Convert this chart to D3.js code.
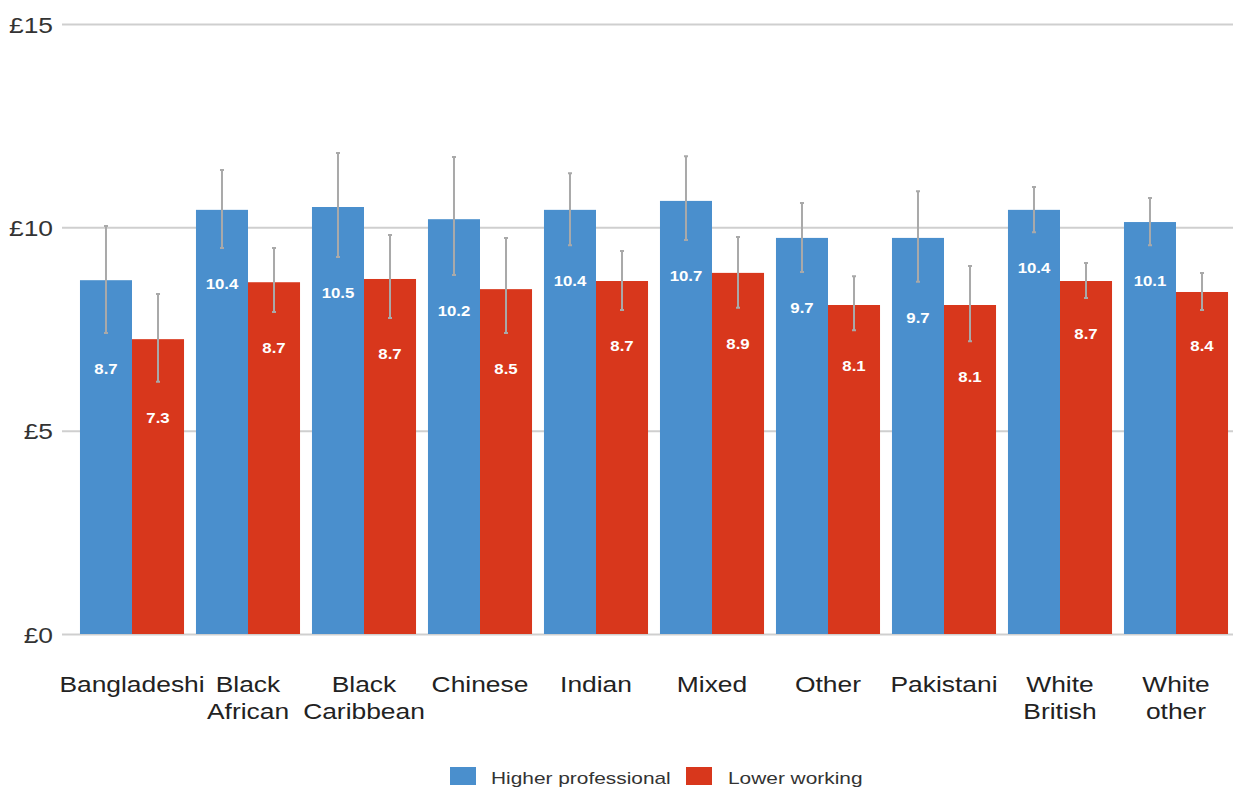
<!DOCTYPE html>
<html><head><meta charset="utf-8">
<script src="https://cdn.jsdelivr.net/npm/d3@7"></script>
<style>body{margin:0;background:#fff;font-family:"Liberation Sans",Arial,sans-serif;}</style>
</head><body>
<svg id="c" width="1233" height="791"></svg>
<script>
const categories = ["Bangladeshi","Black African","Black Caribbean","Chinese","Indian","Mixed","Other","Pakistani","White British","White other"];
const seriesNames = ["Higher professional","Lower working"];
const higherValues = [8.7,10.43,10.5,10.2,10.43,10.65,9.74,9.74,10.43,10.13];
const lowerValues = [7.25,8.65,8.73,8.48,8.68,8.88,8.09,8.09,8.68,8.41];
const higherLabels = ["8.7","10.4","10.5","10.2","10.4","10.7","9.7","9.7","10.4","10.1"];
const lowerLabels = ["7.3","8.7","8.7","8.5","8.7","8.9","8.1","8.1","8.7","8.4"];
const higherErrLow = [7.4,9.49,9.27,8.83,9.56,9.69,8.9,8.66,9.88,9.56];
const higherErrHigh = [10.03,11.41,11.83,11.73,11.33,11.75,10.6,10.89,10.99,10.72];
const lowerErrLow = [6.2,7.92,7.77,7.4,7.97,8.02,7.47,7.2,8.26,7.97];
const lowerErrHigh = [8.36,9.49,9.81,9.74,9.42,9.76,8.8,9.05,9.12,8.88];
const yTicks = [0,5,10,15];
const colors = ["#4a8fcd","#d8371c"];

const SX = 1.2; // horizontal stretch of text in the reference
const svg = d3.select("#c");
const y = d3.scaleLinear().domain([0,15]).range([634,24]);
const x = d3.scaleBand().domain(categories).range([74,1234]).paddingInner(0.103).paddingOuter(0.0515);
const xs = d3.scaleBand().domain(seriesNames).range([0,x.bandwidth()]);

function stext(parent, tx, ty, anchor, size, fill, weight){
  return parent.append("text").attr("transform",`translate(${tx},${ty}) scale(${SX},1)`)
    .attr("text-anchor",anchor).attr("font-size",size).attr("fill",fill)
    .attr("font-weight",weight||"normal").attr("font-family","Liberation Sans, Arial, sans-serif");
}

// grid
const yAxis = d3.axisLeft(y).tickValues(yTicks).tickFormat(d=>"£"+d).tickSize(-(1233-62)).tickPadding(0);
const ga = svg.append("g").attr("transform","translate(62,0)").call(yAxis);
ga.select(".domain").remove();
ga.selectAll(".tick line").attr("stroke","#cfcfcf").attr("stroke-width",2);
ga.selectAll(".tick text").remove();
ga.selectAll(".tick").each(function(d){
  stext(d3.select(this), -9, 8, "end", 22, "#333").text("£"+d);
});

const data = categories.map((c,i)=>({c, vals:[
  {s:seriesNames[0], v:higherValues[i], lab:higherLabels[i], lo:higherErrLow[i], hi:higherErrHigh[i]},
  {s:seriesNames[1], v:lowerValues[i], lab:lowerLabels[i], lo:lowerErrLow[i], hi:lowerErrHigh[i]}
]}));

const g = svg.selectAll(".grp").data(data).enter().append("g").attr("transform",d=>`translate(${x(d.c)},0)`);
g.selectAll("rect").data(d=>d.vals).enter().append("rect")
  .attr("x",d=>xs(d.s)).attr("width",xs.bandwidth())
  .attr("y",d=>y(d.v)).attr("height",d=>y(0)-y(d.v))
  .attr("fill",(d,i)=>colors[i]);
// error bars
g.selectAll(".err").data(d=>d.vals).enter().append("path")
  .attr("d",d=>{const cx=xs(d.s)+xs.bandwidth()/2;return `M${cx-2},${y(d.hi)}H${cx+2}M${cx},${y(d.hi)}V${y(d.lo)}M${cx-2},${y(d.lo)}H${cx+2}`;})
  .attr("stroke","#a9a9a9").attr("stroke-width",2).attr("fill","none");
// labels
g.each(function(d){
  const gg = d3.select(this);
  d.vals.forEach(v=>{
    stext(gg, xs(v.s)+xs.bandwidth()/2, y(v.lo)+41, "middle", 14, "#fff", "bold").text(v.lab);
  });
});

// x axis labels
const xl = svg.append("g");
categories.forEach(c=>{
  const words = c.split(" ");
  words.forEach((w,j)=>stext(xl, x(c)+x.bandwidth()/2, 692+j*27, "middle", 22, "#222").text(w));
});

// legend
const leg = svg.append("g");
const legItems = [{n:seriesNames[0],x:450,tx:491},{n:seriesNames[1],x:686,tx:728}];
legItems.forEach((d,i)=>{
  leg.append("rect").attr("x",d.x).attr("y",767).attr("width",26).attr("height",18).attr("fill",colors[i]);
  stext(leg, d.tx, 784, "start", 17.4, "#333").text(d.n);
});
</script>
</body></html>
